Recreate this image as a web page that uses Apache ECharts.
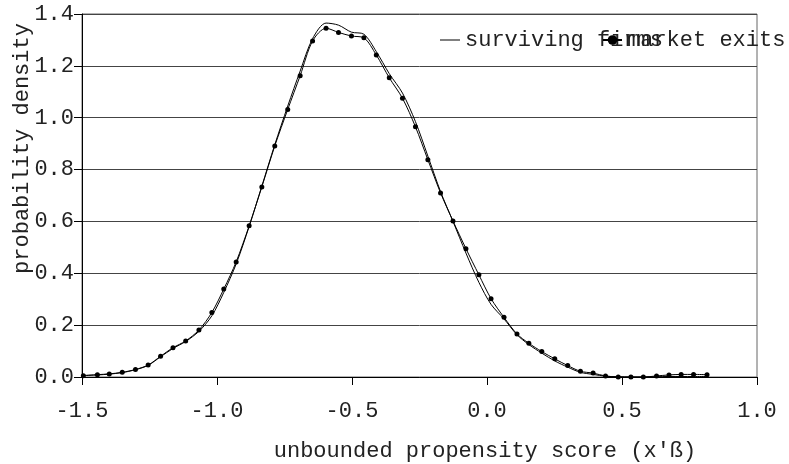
<!DOCTYPE html>
<html>
<head>
<meta charset="utf-8">
<script src="https://cdn.jsdelivr.net/npm/echarts@6/dist/echarts.min.js"></script>
<style>html,body{margin:0;padding:0;background:#fff}#c{width:789px;height:464px}</style>
</head>
<body>
<div id="c"></div>
<script>
var xValues = [-1.495,-1.443,-1.399,-1.351,-1.302,-1.255,-1.209,-1.163,-1.116,-1.067,
  -1.019,-0.975,-0.929,-0.881,-0.834,-0.786,-0.738,-0.692,-0.646,-0.596,
  -0.550,-0.502,-0.456,-0.410,-0.362,-0.313,-0.265,-0.219,-0.172,-0.126,
  -0.078,-0.030,0.015,0.063,0.111,0.155,0.203,0.251,0.299,0.346,
  0.393,0.439,0.486,0.533,0.579,0.628,0.674,0.719,0.765,0.815];
var marketExits = [0.005,0.009,0.012,0.018,0.029,0.046,0.080,0.113,0.139,0.181,
  0.249,0.339,0.444,0.583,0.733,0.891,1.032,1.162,1.296,1.345,
  1.329,1.315,1.308,1.242,1.154,1.075,0.965,0.838,0.710,0.602,
  0.495,0.394,0.302,0.230,0.166,0.130,0.098,0.070,0.044,0.022,
  0.015,0.004,0.000,0.000,0.000,0.004,0.008,0.010,0.010,0.009];
var survivingFirms = [0.006,0.008,0.011,0.017,0.028,0.045,0.078,0.110,0.137,0.176,
  0.236,0.326,0.436,0.580,0.736,0.896,1.045,1.180,1.305,1.365,
  1.357,1.330,1.322,1.255,1.170,1.095,0.985,0.852,0.715,0.600,
  0.478,0.365,0.280,0.224,0.163,0.125,0.092,0.062,0.038,0.018,
  0.010,0.003,0.001,0.000,0.000,0.001,0.002,0.002,0.002,0.002];
var xTicks = {min: -1.5, max: 1.0, interval: 0.5};
var yTicks = {min: 0, max: 1.4, interval: 0.2};
var seriesNames = ['surviving firms', 'market exits'];

function pairs(xs, ys){ return xs.map(function(x,i){ return [x, ys[i]]; }); }

var FONT = 'Liberation Mono';
var FS = 22;
var chart = echarts.init(document.getElementById('c'));
chart.setOption({
  animation: false,
  backgroundColor: '#fff',
  textStyle: {fontFamily: FONT},
  grid: {left: 82, right: 32, top: 14, bottom: 87, containLabel: false, outerBoundsMode: 'none',
    show: true, borderColor: '#666', borderWidth: 1},
  legend: [{
    data: [{name: seriesNames[0], icon: 'rect'}], left: 440, top: 29, padding: 0, itemWidth: 20, itemHeight: 1, itemGap: 5,
    textStyle: {fontFamily: FONT, fontSize: FS, color: '#222'}
  },{
    data: [seriesNames[1]], left: 602, top: 29, padding: 0, itemWidth: 19, itemHeight: 12, itemGap: 5,
    textStyle: {fontFamily: FONT, fontSize: FS, color: '#222'}
  }],
  xAxis: {
    type: 'value', min: xTicks.min, max: xTicks.max, interval: xTicks.interval,
    name: 'unbounded propensity score (x\'ß)', nameLocation: 'middle', nameGap: 63, nameMoveOverlap: false,
    nameTextStyle: {fontFamily: FONT, fontSize: FS, color: '#222', padding: [0,0,0,131]},
    axisLine: {show: true, onZero: false, lineStyle: {color: '#000', width: 1}},
    axisTick: {show: true, inside: false, length: 8, lineStyle: {color: '#000'}},
    axisLabel: {fontFamily: FONT, fontSize: FS, color: '#222', margin: 23,
      formatter: function(v){ return v.toFixed(1); }},
    splitLine: {show: false}
  },
  yAxis: {
    type: 'value', min: yTicks.min, max: yTicks.max, interval: yTicks.interval,
    name: 'probability density', nameLocation: 'middle', nameGap: 49, nameMoveOverlap: false,
    nameTextStyle: {fontFamily: FONT, fontSize: FS, color: '#222', padding: [0,0,0,94]},
    axisLine: {show: true, onZero: false, lineStyle: {color: '#000', width: 1}},
    axisTick: {show: true, inside: false, length: 8, lineStyle: {color: '#000'}},
    axisLabel: {fontFamily: FONT, fontSize: FS, color: '#222', margin: 8,
      formatter: function(v){ return v.toFixed(1); }},
    splitLine: {show: true, lineStyle: {color: '#444', width: 1}}
  },
  series: [{
    name: seriesNames[0], type: 'line', data: pairs(xValues, survivingFirms),
    smooth: 0.3, symbol: 'none', lineStyle: {color: '#000', width: 1}, itemStyle: {color: '#000'}
  },{
    name: seriesNames[1], type: 'line', data: pairs(xValues, marketExits),
    smooth: 0.3, symbol: 'circle', symbolSize: 5, showSymbol: true,
    lineStyle: {color: '#000', width: 1}, itemStyle: {color: '#000'}
  }]
});
</script>
</body>
</html>
